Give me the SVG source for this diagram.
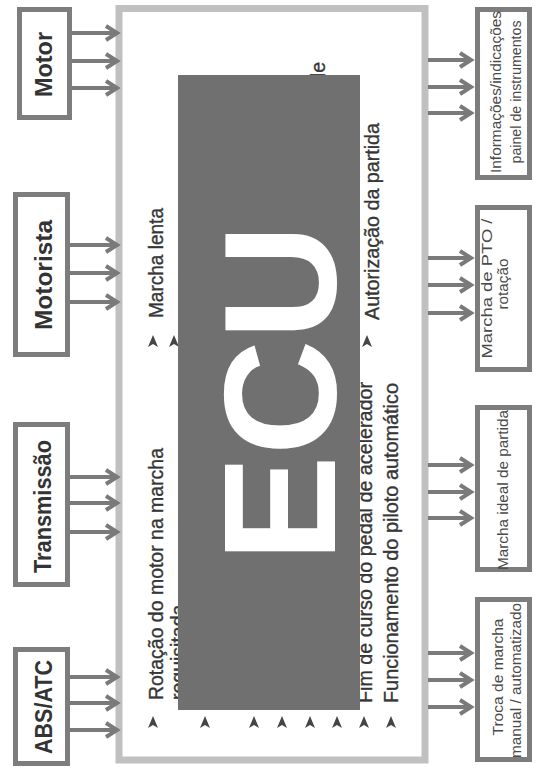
<svg xmlns="http://www.w3.org/2000/svg" width="541" height="776" viewBox="0 0 541 776">
<defs>
<style>
.box{fill:#fff;stroke:#7d7d7d;stroke-width:5}
.lbl{font-family:"Liberation Sans",Arial,sans-serif;font-weight:bold;font-size:24px;fill:#333}
.out{font-family:"Liberation Sans",Arial,sans-serif;font-size:15.3px;fill:#4a4a4a}
.in{font-family:"Liberation Sans",Arial,sans-serif;font-size:19.5px;fill:#363636;stroke:#363636;stroke-width:0.35}
.arr{stroke:#7a7a7a;stroke-width:4;fill:none;marker-end:url(#ah)}
.bul{fill:#454545}
</style>
<marker id="ah" markerUnits="userSpaceOnUse" markerWidth="16" markerHeight="20" refX="12" refY="9" orient="auto">
<path d="M1,2 L12,9 L1,16" fill="none" stroke="#7a7a7a" stroke-width="4" stroke-linejoin="miter"/>
</marker>
<path id="b" d="M0,-6 L5,6 L0,3 L-5,6 Z"/>
</defs>
<rect width="541" height="776" fill="#fff"/>

<g id="ecu">
<rect x="119" y="8.5" width="306" height="751.5" fill="#fff" stroke="#c0c0c0" stroke-width="7"/>
<text class="in" transform="translate(163,318) rotate(-90)" textLength="110" lengthAdjust="spacingAndGlyphs">Marcha lenta</text>
<text class="in" transform="translate(163,700) rotate(-90)" textLength="252" lengthAdjust="spacingAndGlyphs">Rotação do motor na marcha</text>
<text class="in" transform="translate(185,700) rotate(-90)">requisitada</text>
<text class="in" transform="translate(325,62) rotate(-90)" text-anchor="end">de</text>
<text class="in" transform="translate(379,320) rotate(-90)" textLength="197" lengthAdjust="spacingAndGlyphs">Autorização da partida</text>
<text class="in" transform="translate(372,703) rotate(-90)" textLength="321" lengthAdjust="spacingAndGlyphs">Fim de curso do pedal de acelerador</text>
<text class="in" transform="translate(398,703) rotate(-90)" textLength="320" lengthAdjust="spacingAndGlyphs">Funcionamento do piloto automático</text>
<use href="#b" class="bul" x="153" y="341"/>
<use href="#b" class="bul" x="174" y="341"/>
<use href="#b" class="bul" x="367" y="341"/>
<use href="#b" class="bul" x="153" y="722"/>
<use href="#b" class="bul" x="205" y="722"/>
<use href="#b" class="bul" x="254" y="722"/>
<use href="#b" class="bul" x="282" y="722"/>
<use href="#b" class="bul" x="310" y="722"/>
<use href="#b" class="bul" x="337" y="722"/>
<use href="#b" class="bul" x="364" y="722"/>
<use href="#b" class="bul" x="391" y="722"/>
<rect x="178" y="75" width="182" height="635" fill="#707070"/>
<text transform="translate(335,393) rotate(-90)" text-anchor="middle" font-family="Liberation Sans, Arial, sans-serif" font-weight="bold" font-size="160" fill="#fff">ECU</text>
</g>

<g id="motor">
<rect class="box" x="19.5" y="9.5" width="50" height="108"/>
<text class="lbl" transform="translate(52,64.5) rotate(-90)" text-anchor="middle" textLength="65" lengthAdjust="spacingAndGlyphs">Motor</text>
</g>
<g id="motorista">
<rect class="box" x="15.5" y="194.5" width="52" height="160"/>
<text class="lbl" transform="translate(52,275) rotate(-90)" text-anchor="middle" textLength="110" lengthAdjust="spacingAndGlyphs">Motorista</text>
</g>
<g id="transmissao">
<rect class="box" x="15.5" y="424.5" width="52" height="160"/>
<text class="lbl" transform="translate(51,506.5) rotate(-90)" text-anchor="middle" textLength="133" lengthAdjust="spacingAndGlyphs">Transmissão</text>
</g>
<g id="abs-atc">
<rect class="box" x="15.5" y="649.5" width="52" height="114"/>
<text class="lbl" transform="translate(52,707) rotate(-90)" text-anchor="middle" textLength="94" lengthAdjust="spacingAndGlyphs">ABS/ATC</text>
</g>

<g id="informacoes">
<rect class="box" x="477.5" y="9.5" width="52" height="168"/>
<text class="out" transform="translate(501,92) rotate(-90)" text-anchor="middle" textLength="162" lengthAdjust="spacingAndGlyphs">Informações/indicações</text>
<text class="out" transform="translate(521,92) rotate(-90)" text-anchor="middle" textLength="143" lengthAdjust="spacingAndGlyphs">painel de instrumentos</text>
</g>
<g id="pto">
<rect class="box" x="477.5" y="207.5" width="52" height="162"/>
<text class="out" transform="translate(492,288.5) rotate(-90)" text-anchor="middle" textLength="140" lengthAdjust="spacingAndGlyphs">Marcha de PTO /</text>
<text class="out" transform="translate(508,284) rotate(-90)" text-anchor="middle">rotação</text>
</g>
<g id="marcha-ideal">
<rect class="box" x="477.5" y="407.5" width="52" height="162"/>
<text class="out" transform="translate(508,490) rotate(-90)" text-anchor="middle" textLength="160" lengthAdjust="spacingAndGlyphs">Marcha ideal de partida</text>
</g>
<g id="troca">
<rect class="box" x="477.5" y="599.5" width="52" height="160"/>
<text class="out" transform="translate(503,677) rotate(-90)" text-anchor="middle" textLength="117" lengthAdjust="spacingAndGlyphs">Troca de marcha</text>
<text class="out" transform="translate(521,680.5) rotate(-90)" text-anchor="middle" textLength="155" lengthAdjust="spacingAndGlyphs">manual / automatizado</text>
</g>

<g id="connectors">
<path class="arr" d="M72,33 H117"/>
<path class="arr" d="M72,61 H117"/>
<path class="arr" d="M72,88 H117"/>
<path class="arr" d="M70,245 H117"/>
<path class="arr" d="M70,273 H117"/>
<path class="arr" d="M70,302 H117"/>
<path class="arr" d="M70,477 H117"/>
<path class="arr" d="M70,503 H117"/>
<path class="arr" d="M70,532 H117"/>
<path class="arr" d="M70,677 H117"/>
<path class="arr" d="M70,703 H117"/>
<path class="arr" d="M70,730 H117"/>
<path class="arr" d="M428,60 H471"/>
<path class="arr" d="M428,87 H471"/>
<path class="arr" d="M428,113 H471"/>
<path class="arr" d="M428,258 H471"/>
<path class="arr" d="M428,285 H471"/>
<path class="arr" d="M428,313 H471"/>
<path class="arr" d="M428,465 H471"/>
<path class="arr" d="M428,492 H471"/>
<path class="arr" d="M428,518 H471"/>
<path class="arr" d="M428,653 H471"/>
<path class="arr" d="M428,680 H471"/>
<path class="arr" d="M428,707 H471"/>
</g>
</svg>
